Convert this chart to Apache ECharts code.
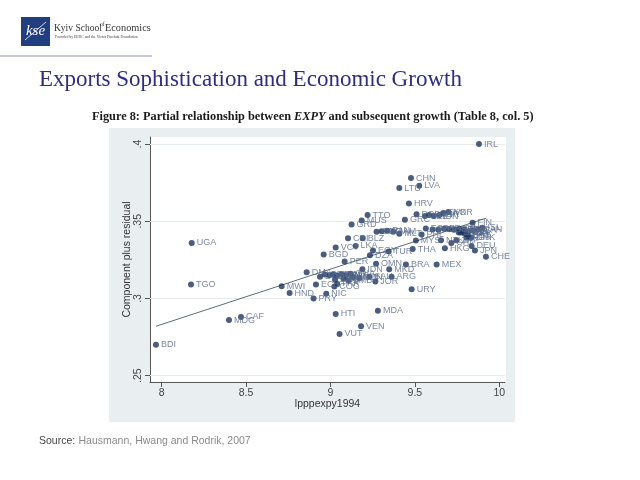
<!DOCTYPE html>
<html>
<head>
<meta charset="utf-8">
<script src="https://cdn.jsdelivr.net/npm/echarts@6/dist/echarts.min.js"></script>
<style>
html,body{margin:0;padding:0;background:#fff;}
#c{width:640px;height:480px;}
</style>
</head>
<body>
<div id="c"></div>
<script>
// ---- data ----
const countries = [
 'BDI','UGA','TGO','MDG','CAF','MWI','HND','PRY','NIC','DMA','ECU','HTI','VUT','VEN','MDA','URY','JOR','ARG','SAU','MKD','IDN','OMN','BRA','MEX','PER','BGD','VCT','LKA','DZA','EGY','TUR','THA','HKG','CHE','DEU','JPN','CRI','BLZ','GRD','MUS','TTO','GRC','MLT','IRL','CHN','LVA','LTU','HRV','POL','KOR','MYS','PHL','FIN',
 'COL','IND','PAN','JAM',
 'BOL','GTM','SLV','SEN','KEN','CMR','CIV','GHA','ZWE','COG','PAK','NGA','ZMB','MAR','TUN',
 'CZE','SVN','HUN','ISR','SVK',
 'ESP','PRT','ITA','FRA','GBR','AUT','SWE','NLD','BEL','USA','CAN','ISL',
 'AUS','SGP','EST','NOR','DNK','CHL','ZAF','NZL','ARE','BRB'
];
const xValues = [
 7.966,8.178,8.174,8.399,8.470,8.711,8.758,8.900,8.975,8.859,8.914,9.031,9.054,9.181,9.281,9.481,9.266,9.362,9.230,9.348,9.189,9.270,9.447,9.629,9.084,8.960,9.031,9.149,9.234,9.252,9.345,9.487,9.678,9.921,9.836,9.856,9.104,9.191,9.125,9.185,9.220,9.441,9.408,9.880,9.477,9.526,9.408,9.465,9.510,9.698,9.506,9.540,9.842,
 9.273,9.303,9.336,9.372,
 8.938,8.967,8.993,9.017,9.040,9.066,9.092,9.119,9.027,9.023,9.040,9.076,9.106,9.135,9.171,
 9.560,9.585,9.613,9.645,9.669,
 9.565,9.605,9.639,9.673,9.704,9.732,9.764,9.791,9.817,9.846,9.876,9.900,
 9.771,9.795,9.814,9.806,9.834,9.716,9.746,9.655,9.785,9.760
];
const yValues = [
 0.270,0.336,0.309,0.286,0.288,0.308,0.3035,0.300,0.303,0.317,0.309,0.290,0.277,0.282,0.292,0.306,0.311,0.314,0.314,0.319,0.319,0.3225,0.322,0.322,0.324,0.3285,0.333,0.334,0.328,0.331,0.3305,0.332,0.3325,0.327,0.334,0.331,0.339,0.339,0.348,0.3505,0.354,0.351,0.342,0.400,0.378,0.373,0.3715,0.3615,0.3545,0.356,0.3375,0.3415,0.349,
 0.3432,0.3436,0.3438,0.3432,
 0.314,0.3155,0.315,0.3155,0.3148,0.3155,0.315,0.316,0.3122,0.3077,0.3094,0.3129,0.3116,0.3137,0.3133,
 0.3534,0.3541,0.3534,0.3541,0.3554,
 0.3454,0.3447,0.3445,0.3452,0.3449,0.3445,0.3452,0.3445,0.3436,0.3440,0.3449,0.3458,
 0.3428,0.3419,0.3406,0.3393,0.3393,0.3360,0.3378,0.3378,0.3432,0.3428
];
const fitX = [7.966, 9.921];
const fitY = [0.282, 0.352];
const xTicks = [8, 8.5, 9, 9.5, 10];
const yTicks = [0.25, 0.3, 0.35, 0.4];

const chart = echarts.init(document.getElementById('c'), null, {renderer:'canvas'});
const pts = countries.map((c,i)=>[xValues[i], yValues[i], c]);
const sans = 'Liberation Sans, Arial, sans-serif';
const serif = 'Liberation Serif, Times New Roman, serif';

chart.setOption({
  animation:false,
  backgroundColor:'#ffffff',
  graphic:[
    {type:'rect', z:-20, silent:true, shape:{x:109,y:128,width:406,height:294}, style:{fill:'#e9eef1'}},
    {type:'rect', z:-19, silent:true, shape:{x:150,y:137,width:356,height:245}, style:{fill:'#ffffff'}},
    // logo
    {type:'rect', shape:{x:21,y:17,width:29,height:29}, style:{fill:'#213f80'}},
    {type:'text', x:35.5, y:31.5, style:{text:'kse', fill:'#ffffff', font:'italic 15px '+serif, align:'center', verticalAlign:'middle'}},
    {type:'line', shape:{x1:25,y1:40,x2:46,y2:22}, style:{stroke:'#ffffff', lineWidth:0.8}},
    {type:'text', x:54, y:28.5, style:{text:'Kyiv School', fill:'#333333', font:'9.5px '+serif, verticalAlign:'middle'}},
    {type:'text', x:100, y:25, style:{text:'of', fill:'#333333', font:'5.5px '+serif, verticalAlign:'middle'}},
    {type:'text', x:105, y:28.5, style:{text:'Economics', fill:'#333333', font:'10.3px '+serif, verticalAlign:'middle'}},
    {type:'text', x:55, y:37.5, style:{text:'Founded by EERC and the Victor Pinchuk Foundation', fill:'#444444', font:'3.8px '+serif, verticalAlign:'middle'}},
    {type:'line', shape:{x1:0,y1:56,x2:152,y2:56}, style:{stroke:'#8a90b4', lineWidth:1}},
    // titles
    {type:'text', x:39, y:80, style:{text:'Exports Sophistication and Economic Growth', fill:'#2e2c8a', font:'23px '+serif, verticalAlign:'middle'}},
    {type:'text', x:92, y:117, style:{
      text:'{n|Figure 8: Partial relationship between }{i|EXPY}{n| and subsequent growth (Table 8, col. 5)}',
      verticalAlign:'middle',
      rich:{
        n:{fontFamily:serif, fontSize:12.3, fill:'#1a1a1a', fontWeight:'bold'},
        i:{fontFamily:serif, fontSize:12.3, fill:'#1a1a1a', fontStyle:'italic', fontWeight:'bold'}
      }}},
    {type:'text', x:39, y:441, style:{
      text:'{a|Source:} {b|Hausmann, Hwang and Rodrik, 2007}',
      verticalAlign:'middle',
      rich:{
        a:{fontFamily:sans, fontSize:10.5, fill:'#444444'},
        b:{fontFamily:sans, fontSize:10.5, fill:'#8a8a8a'}
      }}}
  ],
  grid:{left:150, right:135, top:137, bottom:98, containLabel:false},
  xAxis:{
    type:'value', min:7.931, max:10.034,
    name:'lpppexpy1994', nameLocation:'middle', nameGap:17, nameMoveOverlap:false,
    nameTextStyle:{fontFamily:sans, fontSize:10.5, color:'#333333'},
    axisLine:{show:true, onZero:false, lineStyle:{color:'#555555', width:1}},
    axisTick:{show:true, inside:false, length:5, customValues:xTicks, lineStyle:{color:'#555555'}},
    axisLabel:{show:true, margin:6, customValues:xTicks, fontFamily:sans, fontSize:10.5, color:'#444444',
      formatter:v=>String(v)},
    splitLine:{show:false}
  },
  yAxis:{
    type:'value', min:0.2459, max:0.4046,
    name:'Component plus residual', nameLocation:'middle', nameGap:17, nameRotate:90, nameMoveOverlap:false,
    nameTextStyle:{fontFamily:sans, fontSize:10.5, color:'#333333'},
    axisLine:{show:true, onZero:false, lineStyle:{color:'#555555', width:1}},
    axisTick:{show:true, inside:false, length:5, customValues:yTicks, lineStyle:{color:'#555555'}},
    axisLabel:{show:true, margin:6, rotate:90, customValues:yTicks, fontFamily:sans, fontSize:10.5, color:'#444444',
      formatter:v=>String(v).replace(/^0\./,'.')},
    splitLine:{show:false}
  },
  series:[
    {
      type:'line', data:fitX.map((x,i)=>[x,fitY[i]]), symbol:'none', silent:true, z:3,
      lineStyle:{color:'#5f6e74', width:1},
      markLine:{silent:true, symbol:'none', label:{show:false}, z:1,
        lineStyle:{color:'#e6ebee', width:1, type:'solid'},
        data:yTicks.map(v=>({yAxis:v}))}
    },
    {
      type:'scatter', data:pts, symbol:'circle', symbolSize:6, z:4,
      itemStyle:{color:'#1b3561'},
      label:{show:true, position:'right', distance:2, formatter:p=>p.data[2],
        fontFamily:sans, fontSize:9, color:'#56698a'},
      labelLayout:{hideOverlap:false}
    }
  ]
});
</script>
</body>
</html>
